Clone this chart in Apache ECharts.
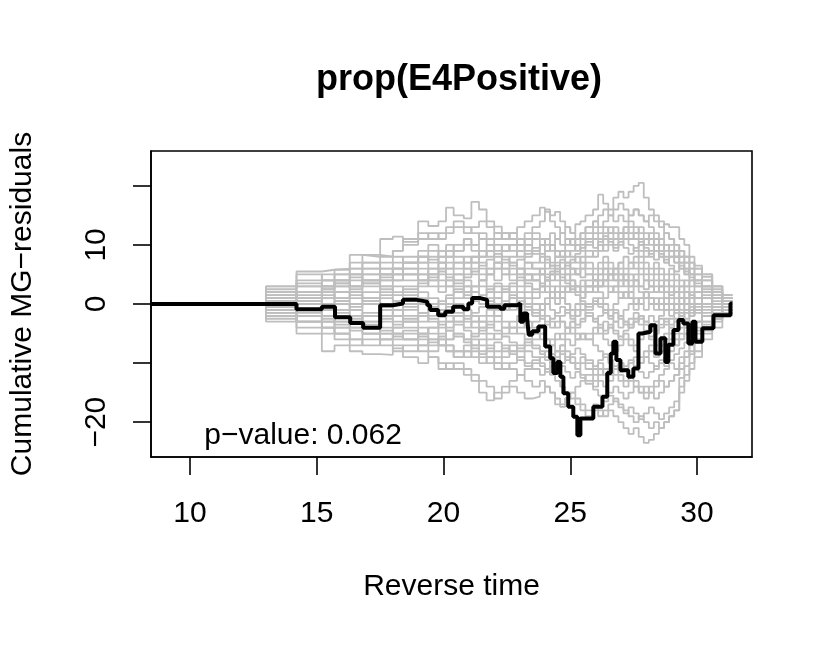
<!DOCTYPE html>
<html>
<head>
<meta charset="utf-8">
<script src="https://cdn.jsdelivr.net/npm/echarts@6/dist/echarts.min.js"></script>
<style>
  html, body { margin: 0; padding: 0; background: #fff; }
  #container { width: 830px; height: 646px; }
</style>
</head>
<body>
<div id="container"></div>
<script>
var chartTitle = 'prop(E4Positive)';
var xTitle = 'Reverse time';
var yTitle = 'Cumulative MG\u2212residuals';
var pText = 'p\u2212value: 0.062';
var pPos = [14.48, -22.46];

var xMin = 8.46, xMax = 32.17;
var yMin = -25.9, yMax = 25.9;
var xTicks = [10, 15, 20, 25, 30];
var yTicks = [-20, -10, 0, 10, 20];
var yLabels = [-20, 0, 10];

var startTime = 8.46;

// observed cumulative residual (black step line)
var observed = [
    [8.46, 0], [14.2, -0.9], [15.2, -0.45], [15.72, -2.25], [16.32, -3.2],
    [16.83, -4.0], [17.5, -0.2], [18.0, 0.1], [18.4, 0.7], [18.95, 0.4],
    [19.36, -0.2], [19.47, -1.0], [19.79, -1.9], [20.07, -1.3], [20.38, -0.45],
    [20.78, -0.9], [20.98, 0.1], [21.13, 1.0], [21.45, 0.7], [21.72, -0.45],
    [22.24, -0.8], [22.4, -0.2], [22.9, 0.1], [23.03, -3.0], [23.15, -1.6],
    [23.3, -2.4], [23.36, -5.2], [23.5, -4.6], [23.74, -3.8], [24.01, -7.2],
    [24.21, -9.2], [24.33, -11.7], [24.49, -9.8], [24.61, -12.3], [24.73, -15.1],
    [24.92, -17.4], [25.12, -19.1], [25.28, -22.2], [25.4, -19.4], [25.91, -17.4],
    [26.27, -15.7], [26.46, -11.7], [26.6, -8.4], [26.7, -6.4], [26.82, -9.5],
    [26.98, -11.2], [27.29, -12.3], [27.49, -10.9], [27.69, -5.0], [27.84, -4.7],
    [28.16, -3.6], [28.36, -8.4], [28.56, -5.8], [28.75, -9.8], [28.87, -6.9],
    [29.07, -4.4], [29.27, -2.7], [29.46, -3.3], [29.66, -6.7], [29.82, -3.0],
    [29.94, -6.4], [30.21, -4.1], [30.65, -1.9], [31.32, 0.1], [31.4, 0.1]
];

// event times shared by the simulated paths
var simTimes = [13.0, 14.2, 15.2, 15.7, 16.3, 16.8, 17.5, 18.0, 18.4, 19.0,
    19.4, 19.8, 20.1, 20.4, 20.8, 21.1, 21.4, 21.7, 22.0, 22.3,
    22.6, 22.9, 23.2, 23.5, 23.8, 24.0, 24.2, 24.4, 24.6, 24.8,
    25.0, 25.2, 25.4, 25.6, 25.9, 26.1, 26.3, 26.5, 26.7, 26.9,
    27.1, 27.3, 27.5, 27.7, 27.9, 28.1, 28.3, 28.5, 28.7, 28.9,
    29.1, 29.3, 29.5, 29.7, 29.9, 30.2, 30.6, 31.0, 31.4];

// simulated paths (grey)
var simPaths = [
    [2.5,5.5,5.8,6,8.3,8,11,11.4,10.5,14, 13.2,14,16.3,15,14.5,17.3,16,14,13.1,12, 11,10,9,8.5,7,8,6.5,7,6,5, 6,5,4.5,5,4,5,6,5,4,5, 4,3,4,3,2.5,3,2,3,2,1.5, 2,1,2,1.5,1,1.5,1,1,1],
    [1.5,2,3,4,3,5,6,5,7,8, 7.5,9,10,9,11,10,12,11,12,11, 12,13,14,15,16.3,15.6,14,13,12,13, 12,13.5,14,15,16,18.5,17,16,18,19, 18,19,20,20.5,18,16,15,14,12,11, 10,9,8,7,6,4.6,3,1.5,1.5],
    [3,4,5,5.8,7,8.3,8,9,10,11, 12,11,12,13,12,13,14,13,12,11, 12,11,12,13,14,16,15,15.6,14,13, 12,11,12,13,14,15,16,15,16,17, 16,15,16,15,14,15,14,13,13.5,13, 13,11,10,8,6.5,5,3,1,1],
    [2,3,4,3,5,6,7,8,7,9, 10,9,8,9,10,9,8,9,10,9, 10,11,10,9,10,11,12,11,10,11, 10,9,10,11,12,11,12,13,12,11, 12,13,12,11,10,11,10,9,10,9, 8,7,6,5,4,3,2,1.5,1.5],
    [1,2,3,2,3,4,5,4,5,6, 5,6,7,6,7,8,7,6,7,8, 7,6,7,6,5,6,7,8,9,8, 9,10,9,10,11,10,9,10,9,10, 11,10,9,10,9,8,9,8,7,8, 7,6,5,6,5,4,2.5,1,1],
    [0.5,1,0,1,2,1,2,3,2,3, 4,3,4,5,4,3,4,5,4,5, 6,5,4,5,6,5,4,5,6,7, 6,5,6,7,6,7,8,7,6,7, 8,7,6,7,6,5,6,5,4,5, 4,3,4,3,2,3,2,1,1],
    [-1,-2,-1,0,-1,0,1,0,1,2, 1,0,1,2,3,2,1,2,3,2, 3,4,5,4,3,4,5,6,5,4, 5,6,7,8,9,10,11,12,13,12, 13,14,13,12,11,12,11,10,9,10, 9,8,7,6,5,4,2,0.5,0.5],
    [2,3.5,2.5,3.5,4.5,3.5,4.5,6,6,7, 8,7,8,7,6,7,6,5,6,5, 4,5,6,7,8,9,10,9,8,9, 8,7,8,9,8,9,10,11,10,11, 12,11,12,13,12,11,10,11,10,9, 8,9,8,7,6,5,3,1.5,1.5],
    [0,-1,0,-1,0,1,0,-1,0,1, 0,-1,0,1,2,1,0,1,0,-1, 0,1,2,1,2,3,2,1,2,3, 2,3,4,3,2,3,4,5,4,3, 4,5,4,3,4,3,2,3,4,3, 2,3,2,1,2,1,0,0.5,0.5],
    [-1,-2,-3,-2,-3,-2,-3,-4,-3,-2, -3,-4,-3,-2,-1,-2,-3,-2,-1,0, -1,0,1,0,-1,0,1,2,1,2, 3,2,1,2,3,2,1,2,3,4, 3,2,3,2,1,2,3,2,1,2, 1,0,1,0,1,0,-0.5,0,0],
    [-2,-3,-4,-5,-4,-5,-6,-5,-6,-5, -6,-7,-6,-5,-6,-5,-4,-5,-6,-5, -4,-3,-4,-3,-2,-3,-4,-3,-2,-1, -2,-1,0,-1,0,1,0,-1,0,1, 2,1,0,1,2,1,0,1,0,-1, 0,-1,0,-1,0,-1,0,-1,-1],
    [-3,-5,-8,-7,-8,-8.5,-8.6,-7.5,-9,-10, -9,-11,-10,-11,-12,-13,-15,-16.3,-15,-14, -13,-12,-11,-10,-9,-8,-9,-8,-7,-6, -7,-6,-5,-6,-5,-4,-5,-4,-3,-4, -3,-4,-3,-2,-3,-2,-3,-2,-1,-2, -1,-2,-1,-2,-1,-2,-1,-1.5,-1.5],
    [-1.5,-2,-3,-4,-3,-4,-5,-6,-5,-6, -7,-6,-7,-8,-9,-8,-9,-10,-11,-10, -11,-12,-13,-14,-13,-14,-15,-16,-17,-16, -15,-16,-17,-18,-17,-18,-19,-18,-19,-20, -21,-22,-21,-22.5,-23.5,-23,-22,-21,-20,-19, -18,-15,-13,-11,-9,-6,-4,-2,-2],
    [-2,-4,-5,-6,-7,-6,-7,-8,-7,-8, -9,-10,-11,-10,-11,-12,-13,-14,-16,-15, -14,-15,-16,-15.7,-15,-14,-15,-17,-17.4,-16, -15,-14,-13,-12,-13,-12,-11,-12,-11,-10, -11,-10,-9,-10,-9,-8,-9,-8,-7,-6, -7,-6,-5,-4,-3,-2,-1.5,-1,-1],
    [0,-1,-2,-1,-2,-3,-2,-3,-4,-5, -4,-5,-6,-5,-6,-7,-6,-7,-8,-7, -8,-9,-8,-9,-10,-11,-12,-13,-14,-15, -16,-17,-18,-19,-18,-19,-18,-17,-16,-17, -18,-19,-20,-19,-20,-21,-20,-21,-20,-19, -18,-14,-12,-10,-8,-5,-3,-1.5,-1.5],
    [-1,-3,-4,-5,-6,-5,-4,-5,-6,-7, -8,-7,-8,-9,-8,-9,-10,-9,-10,-11, -10,-9,-10,-11,-12,-11,-10,-11,-10,-9, -10,-11,-12,-13,-14,-13,-14,-15,-14,-15, -16,-15,-14,-15,-16,-15,-14,-13,-14,-13, -12,-10,-9,-7,-6,-4,-2.5,-1,-1],
    [-1.5,-1,-2,-3,-2,-3,-2,-1,-2,-3, -2,-1,-2,-3,-4,-3,-4,-3,-2,-3, -4,-5,-6,-5,-6,-7,-6,-5,-6,-5, -4,-5,-6,-5,-4,-5,-6,-7,-8,-7, -6,-7,-8,-9,-8,-7,-8,-7,-6,-5, -6,-5,-4,-5,-4,-3,-2,-1,-1],
    [1,2,3,4,5,4,5,6,5,4, 5,4,3,4,3,2,3,2,1,0, 1,0,-1,-2,-1,-2,-3,-4,-3,-4, -5,-6,-5,-6,-7,-8,-9,-10,-11,-12, -13,-12,-13,-14,-15,-14,-13,-12,-11,-10, -11,-9,-8,-6,-5,-3,-2,-1,-1],
    [0.5,1.5,2.5,3.5,2.5,3.5,2.5,1.5,2.5,3.5, 4.5,5.5,4.5,3.5,4.5,5.5,6.5,7.5,8.5,7.5, 6.5,7.5,8.5,9.5,8.5,7.5,6.5,5.5,4.5,3.5, 2.5,1.5,0.5,-0.5,0.5,-0.5,-1.5,-2.5,-1.5,-2.5, -3.5,-2.5,-1.5,-2.5,-3.5,-4.5,-3.5,-2.5,-3.5,-2.5, -1.5,-2.5,-1.5,-0.5,-1.5,-0.5,0.5,0.5,0.5],
    [-0.5,0.5,-0.5,-1.5,-2.5,-1.5,-2.5,-3.5,-2.5,-1.5, -2.5,-3.5,-4.5,-3.5,-4.5,-5.5,-4.5,-3.5,-4.5,-5.5, -6.5,-7.5,-6.5,-7.5,-8.5,-9.5,-8.5,-9.5,-10.5,-11.5, -12.5,-11.5,-12.5,-13.5,-14.5,-15.5,-16.5,-15.5,-16.5,-17.5, -18.5,-17.5,-18.5,-19.5,-18.5,-17.5,-18.5,-19.5,-18.5,-17.5, -16.5,-12.5,-10.5,-8.5,-6.5,-4.5,-2.5,-1.5,-1.5],
    [1.5,3,4,5,6,7,6,7,8,7, 6,7,6,5,6,5,4,5,6,7, 8,9,8,9,10,11,10,11,12,11, 10,11,12,13,14,13,14,15,14,15, 14,15,16,15,14,13,12,11,12,11, 10,8,7,5,4,3,1.5,1,1],
    [-2.5,-2,-1,-2,-3,-4,-5,-4,-3,-4, -5,-6,-7,-8,-7,-6,-7,-8,-9,-8, -7,-8,-7,-6,-5,-6,-7,-6,-5,-4, -3,-4,-3,-2,-3,-2,-1,-2,-3,-2, -1,0,-1,0,1,0,-1,0,1,0, -1,0,1,0,-1,0,1,0,0],
    [1,0,1,2,1,2,3,2,3,4, 3,2,3,2,1,2,1,0,1,2, 1,2,3,2,3,2,1,0,1,0, -1,0,1,2,3,4,3,2,3,2, 1,2,1,0,-1,0,1,0,-1,0, -1,0,-1,-2,-1,-2,-1,-0.5,-0.5],
    [3,5,4,5,6,7,8,9,11,12, 11,12,13,14,13,12,11,10,9,10, 9,8,7,6,5,4,5,4,3,2, 3,2,3,4,3,4,5,4,5,6, 5,4,5,6,5,4,5,4,3,4, 3,2,3,2,1,2,1,0.5,0.5],
    [1,2,1,2,3,4,3,4,5,4, 5,6,5,4,5,6,5,6,7,6, 5,6,5,4,3,4,5,6,7,6, 7,8,7,6,5,6,7,6,5,4, 5,6,7,8,7,6,7,6,5,6, 5,4,3,4,3,2,1,0.5,0.5],
    [-0.5,-1.5,-2.5,-3.5,-4.5,-3.5,-4.5,-5.5,-4.5,-5.5, -6.5,-5.5,-4.5,-5.5,-6.5,-7.5,-8.5,-7.5,-6.5,-7.5, -8.5,-9.5,-10.5,-9.5,-10.5,-11.5,-10.5,-9.5,-8.5,-9.5, -8.5,-7.5,-8.5,-9.5,-10.5,-9.5,-8.5,-9.5,-10.5,-11.5, -10.5,-9.5,-10.5,-11.5,-12.5,-11.5,-10.5,-9.5,-10.5,-9.5, -8.5,-7.5,-6.5,-5.5,-4.5,-3.5,-2.5,-1.5,-1.5],
    [0,1,2,1,2,3,4,5,4,5, 6,7,6,7,8,7,8,9,8,9, 10,9,10,11,10,9,10,9,8,7, 6,5,6,5,4,3,4,3,2,1, 2,1,0,1,2,1,0,-1,0,1, 0,1,0,-1,0,1,0,0.5,0.5],
    [-0.5,0.5,1.5,0.5,-0.5,0.5,1.5,0.5,-0.5,-1.5, -0.5,0.5,1.5,2.5,1.5,0.5,1.5,2.5,3.5,2.5, 3.5,4.5,3.5,2.5,3.5,4.5,5.5,6.5,7.5,6.5, 7.5,8.5,9.5,10.5,9.5,10.5,11.5,10.5,9.5,10.5, 9.5,8.5,9.5,10.5,9.5,8.5,7.5,8.5,7.5,6.5, 5.5,6.5,5.5,4.5,3.5,2.5,1.5,0.5,0.5],
    [1,0,-1,0,-1,-2,-1,-2,-3,-2, -1,-2,-1,0,-1,-2,-3,-4,-3,-4, -5,-4,-3,-4,-5,-6,-7,-8,-7,-8, -9,-10,-9,-10,-11,-10,-11,-12,-11,-10, -11,-12,-11,-10,-9,-10,-11,-10,-9,-8, -7,-6,-5,-4,-3,-2,-1,-1,-1],
    [2,1,2,3,4,5,4,5,6,5, 4,5,4,3,2,3,4,3,2,3, 2,3,4,5,6,7,6,5,4,5, 4,3,2,3,4,5,6,5,6,7, 6,7,8,9,8,9,10,9,8,9, 8,7,6,5,4,3,2,1,1],
    [-1,-2,-3,-4,-3,-2,-1,-2,-1,0, -1,-2,-3,-2,-3,-4,-5,-6,-5,-4, -3,-2,-1,-2,-1,0,-1,-2,-3,-4, -3,-2,-1,0,1,0,-1,-2,-1,-2, -3,-4,-3,-2,-3,-4,-5,-4,-3,-4, -3,-2,-3,-2,-1,-2,-1,-1.5,-1.5],
    [0.5,2,3,4,3,4,5,6,7,8, 7,8,9,10,11,10,9,10,11,12, 11,10,11,12,11,10,9,8,9,10, 11,10,11,12,13,12,13,12,11,12, 13,12,11,10,11,10,9,8,7,8, 7,6,5,4,3,2,1,0.5,0.5],
    [-2,-3,-4,-5,-6,-7,-6,-5,-6,-5, -4,-3,-4,-3,-2,-3,-2,-1,-2,-1, 0,1,0,-1,0,1,2,3,2,3, 4,3,2,3,4,3,4,5,6,5, 4,3,4,5,4,3,4,3,2,3, 2,1,2,1,0,1,0,0,0],
    [0,0.5,-0.5,0.5,1.5,0.5,-0.5,0.5,1.5,0.5, -0.5,-1.5,-0.5,-1.5,-2.5,-1.5,-0.5,0.5,-0.5,0.5, 1.5,0.5,-0.5,-1.5,-2.5,-3.5,-2.5,-1.5,-0.5,-1.5, -2.5,-3.5,-2.5,-1.5,-2.5,-3.5,-4.5,-3.5,-4.5,-5.5, -4.5,-3.5,-2.5,-3.5,-4.5,-5.5,-4.5,-3.5,-2.5,-3.5, -2.5,-1.5,-2.5,-1.5,-0.5,-1.5,-0.5,-1,-1],
    [1,2,3,4,5,6,5,6,7,8, 9,8,9,8,7,8,9,8,7,6, 7,6,5,4,5,4,3,2,1,0, -1,-2,-1,-2,-3,-4,-3,-4,-5,-6, -5,-6,-7,-6,-5,-6,-7,-6,-5,-4, -5,-4,-3,-4,-3,-2,-1,-0.5,-0.5],
    [-2,-3,-2,-3,-4,-5,-6,-7,-8,-7, -6,-7,-8,-9,-8,-7,-8,-9,-10,-9, -8,-7,-6,-7,-8,-9,-10,-9,-8,-9, -10,-11,-10,-11,-12,-11,-12,-13,-12,-13, -14,-13,-14,-15,-14,-15,-16,-15,-14,-13, -12,-11,-9,-8,-6,-4,-2,-1.5,-1.5]
];

var fontFamily = '"Liberation Sans", Arial, Helvetica, sans-serif';

var dom = document.getElementById('container');
var myChart = echarts.init(dom);

var series = [];
for (var i = 0; i < simPaths.length; i++) {
    var pts = [[startTime, 0]];
    for (var j = 0; j < simTimes.length; j++) {
        pts.push([simTimes[j], simPaths[i][j]]);
    }
    series.push({
        type: 'line',
        step: 'end',
        data: pts,
        symbol: 'none',
        silent: true,
        lineStyle: {color: '#bebebe', width: 1.8}
    });
}
series.push({
    type: 'line',
    step: 'end',
    data: observed,
    symbol: 'none',
    silent: true,
    z: 5,
    lineStyle: {color: '#000', width: 4}
});
series.push({
    type: 'scatter',
    data: [pPos],
    symbolSize: 1,
    silent: true,
    z: 6,
    itemStyle: {color: 'transparent'},
    label: {
        show: true,
        position: [0, 0],
        align: 'center',
        verticalAlign: 'middle',
        formatter: pText,
        color: '#000',
        opacity: 1,
        fontSize: 30,
        fontFamily: fontFamily
    }
});

var option = {
    animation: false,
    backgroundColor: '#fff',
    title: {
        text: chartTitle,
        left: 454,
        top: 57,
        textAlign: 'center',
        textStyle: {fontSize: 36, fontWeight: 'bold', color: '#000', fontFamily: fontFamily}
    },
    grid: {
        left: 151,
        right: 78,
        top: 151,
        bottom: 189,
        show: true,
        borderColor: '#000',
        borderWidth: 1.6,
        containLabel: false
    },
    xAxis: {
        type: 'value',
        min: xMin,
        max: xMax,
        name: xTitle,
        nameLocation: 'middle',
        nameGap: 115,
        nameTextStyle: {fontSize: 30, color: '#000', fontFamily: fontFamily},
        splitLine: {show: false},
        axisLine: {show: true, onZero: false, lineStyle: {color: '#000', width: 1.6}},
        axisTick: {show: true, customValues: xTicks, length: 18, lineStyle: {color: '#000', width: 1.6}},
        axisLabel: {customValues: xTicks, margin: 42, fontSize: 30, color: '#000', fontFamily: fontFamily}
    },
    yAxis: {
        type: 'value',
        min: yMin,
        max: yMax,
        name: yTitle,
        nameLocation: 'middle',
        nameGap: 113,
        nameTextStyle: {fontSize: 30, color: '#000', fontFamily: fontFamily},
        splitLine: {show: false},
        axisLine: {show: true, onZero: false, lineStyle: {color: '#000', width: 1.6}},
        axisTick: {show: true, customValues: yTicks, length: 18, lineStyle: {color: '#000', width: 1.6}},
        axisLabel: {
            customValues: yLabels,
            rotate: 90,
            margin: 39,
            fontSize: 30,
            color: '#000',
            fontFamily: fontFamily,
            formatter: function (v) { return String(v).replace('-', '\u2212'); }
        }
    },
    series: series
};

myChart.setOption(option, true);
</script>
</body>
</html>
